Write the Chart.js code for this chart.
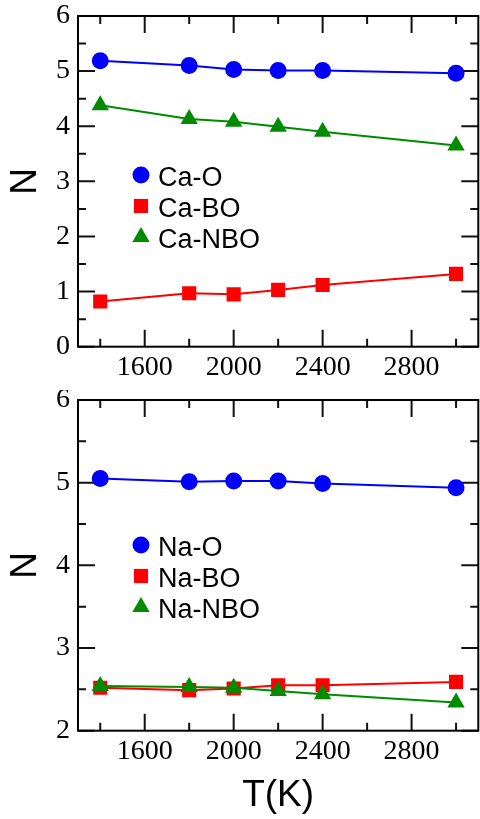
<!DOCTYPE html>
<html><head><meta charset="utf-8">
<script src="https://cdn.jsdelivr.net/npm/chart.js@4/dist/chart.umd.min.js"></script>
<style>
html,body{margin:0;padding:0;background:#fff;}
#wrap{position:relative;width:480px;height:819px;overflow:hidden;}
#c1{position:absolute;left:0;top:0;}
#c2{position:absolute;left:0;top:390px;}
</style></head><body>
<div id="wrap"><canvas id="c1" width="480" height="390"></canvas><canvas id="c2" width="480" height="429"></canvas></div>
<script>
// ---- data ----
const temps = [1400, 1800, 2000, 2200, 2400, 3000];
const caO   = [5.19, 5.10, 5.03, 5.01, 5.01, 4.96];
const caBO  = [0.82, 0.97, 0.95, 1.03, 1.12, 1.32];
const caNBO = [4.38, 4.13, 4.08, 3.99, 3.90, 3.65];
const naO   = [5.05, 5.01, 5.02, 5.02, 4.99, 4.94];
const naBO  = [2.52, 2.49, 2.51, 2.55, 2.55, 2.59];
const naNBO = [2.54, 2.53, 2.52, 2.48, 2.44, 2.34];

const xMajor = [1600, 2000, 2400, 2800];
const xMinor = [1400, 1800, 2200, 2600, 3000];
const yMajorTop = [0, 1, 2, 3, 4, 5, 6];
const yMinorTop = [0.5, 1.5, 2.5, 3.5, 4.5, 5.5];
const yMajorBot = [2, 3, 4, 5, 6];
const yMinorBot = [2.5, 3.5, 4.5, 5.5];

const BLUE = '#0000ff', RED = '#ff0000', GREEN = '#008b00';

function pts(vals) { return temps.map((t, i) => ({x: t, y: vals[i]})); }

function ds(label, vals, color, style, r, order) {
  return {
    label, data: pts(vals), borderColor: color, backgroundColor: color,
    pointBackgroundColor: color, pointBorderWidth: 0, pointStyle: style,
    pointRadius: r, pointHoverRadius: r, borderWidth: 2, tension: 0, order
  };
}

const framePlugin = {
  id: 'frame',
  beforeDatasetsDraw(chart, args, opts) {
    const {ctx, chartArea: a} = chart;
    const x = chart.scales.x, y = chart.scales.y;
    ctx.save();
    ctx.strokeStyle = '#111';
    ctx.lineWidth = 2;
    const tx = (vals, len) => vals.forEach(v => {
      const p = x.getPixelForValue(v);
      ctx.beginPath();
      ctx.moveTo(p, a.bottom); ctx.lineTo(p, a.bottom - len);
      ctx.moveTo(p, a.top); ctx.lineTo(p, a.top + len);
      ctx.stroke();
    });
    const ty = (vals, len) => vals.forEach(v => {
      const p = y.getPixelForValue(v);
      ctx.beginPath();
      ctx.moveTo(a.left, p); ctx.lineTo(a.left + len, p);
      ctx.moveTo(a.right, p); ctx.lineTo(a.right - len, p);
      ctx.stroke();
    });
    tx(xMajor, 17); tx(xMinor, 8);
    ty(opts.yMajor, 17); ty(opts.yMinor, 8);
    ctx.strokeStyle = '#000';
    ctx.strokeRect(a.left, a.top, a.right - a.left, a.bottom - a.top);
    ctx.restore();
  }
};

function drawMarker(ctx, style, r, x, y) {
  if (Chart.helpers && Chart.helpers.drawPoint) {
    Chart.helpers.drawPoint(ctx, {pointStyle: style, radius: r, rotation: 0, borderWidth: 0}, x, y);
    return;
  }
  ctx.beginPath();
  if (style === 'circle') ctx.arc(x, y, r, 0, Math.PI * 2);
  else if (style === 'rect') { const s = r * Math.SQRT1_2; ctx.rect(x - s, y - s, 2 * s, 2 * s); }
  else { ctx.moveTo(x, y - r); ctx.lineTo(x - r * 0.866, y + r / 2); ctx.lineTo(x + r * 0.866, y + r / 2); ctx.closePath(); }
  ctx.fill();
}

const legendPlugin = {
  id: 'inlegend',
  afterDatasetsDraw(chart, args, opts) {
    const ctx = chart.ctx;
    ctx.save();
    chart.data.datasets.forEach((d, i) => {
      const cy = opts.y + i * opts.dy;
      ctx.fillStyle = d.pointBackgroundColor;
      ctx.strokeStyle = d.pointBackgroundColor;
      drawMarker(ctx, d.pointStyle, d.pointRadius, opts.x, cy);
      ctx.fillStyle = '#000';
      ctx.font = '27px "Liberation Sans", Arial, sans-serif';
      ctx.textAlign = 'left';
      ctx.textBaseline = 'alphabetic';
      ctx.fillText(d.label, opts.tx, cy + 11);
    });
    ctx.restore();
  }
};

const serif = '"Liberation Serif", "Times New Roman", serif';
const sans = '"Liberation Sans", Arial, sans-serif';

function makeChart(canvas, datasets, cfg) {
  return new Chart(canvas, {
    type: 'line',
    data: {datasets},
    plugins: [framePlugin, legendPlugin],
    options: {
      responsive: false, animation: false, devicePixelRatio: 1,
      layout: {autoPadding: false, padding: {top: cfg.padTop, right: 1.7, left: 0, bottom: 0}},
      plugins: {
        legend: {display: false}, tooltip: {enabled: false},
        frame: {yMajor: cfg.yMajor, yMinor: cfg.yMinor},
        inlegend: {x: 141, y: cfg.legY, dy: 31, tx: 158}
      },
      scales: {
        x: {
          type: 'linear', min: 1300, max: 3100,
          afterBuildTicks: (ax) => { ax.ticks = xMajor.map(v => ({value: v})); },
          afterFit: (ax) => { ax.height = cfg.xHeight; ax.paddingLeft = 0; ax.paddingRight = 0; ax.paddingTop = 0; ax.paddingBottom = 0; },
          grid: {display: false, drawTicks: false},
          border: {display: false},
          ticks: {font: {family: serif, size: 28}, color: '#000', padding: 4, maxRotation: 0, autoSkip: false, callback: (v) => String(v)},
          title: cfg.xTitle ? {display: true, text: 'T(K)', color: '#000', font: {family: sans, size: 37}, padding: {top: 0, bottom: 1}} : {display: false}
        },
        y: {
          type: 'linear', min: cfg.yMin, max: cfg.yMax,
          afterBuildTicks: (ax) => { ax.ticks = cfg.yMajor.map(v => ({value: v})); },
          afterFit: (ax) => { ax.width = 78; ax.paddingTop = 0; ax.paddingBottom = 0; ax.paddingLeft = 0; ax.paddingRight = 0; },
          grid: {display: false, drawTicks: false},
          border: {display: false},
          ticks: {font: {family: serif, size: 28}, color: '#000', padding: 8, callback: (v) => String(v)},
          title: {display: true, text: 'N', color: '#000', font: {family: sans, size: 37}, padding: {top: 4, bottom: 0}}
        }
      }
    }
  });
}

makeChart(document.getElementById('c1'), [
  ds('Ca-O', caO, BLUE, 'circle', 8.5, 2),
  ds('Ca-BO', caBO, RED, 'rect', 10, 1),
  ds('Ca-NBO', caNBO, GREEN, 'triangle', 10, 0)
], {padTop: 16, xHeight: 43.3, yMin: 0, yMax: 6, yMajor: yMajorTop, yMinor: yMinorTop, legY: 175, xTitle: false});

makeChart(document.getElementById('c2'), [
  ds('Na-O', naO, BLUE, 'circle', 8.5, 2),
  ds('Na-BO', naBO, RED, 'rect', 10, 1),
  ds('Na-NBO', naNBO, GREEN, 'triangle', 10, 0)
], {padTop: 10, xHeight: 88.3, yMin: 2, yMax: 6, yMajor: yMajorBot, yMinor: yMinorBot, legY: 155, xTitle: true});
</script>
</body></html>
